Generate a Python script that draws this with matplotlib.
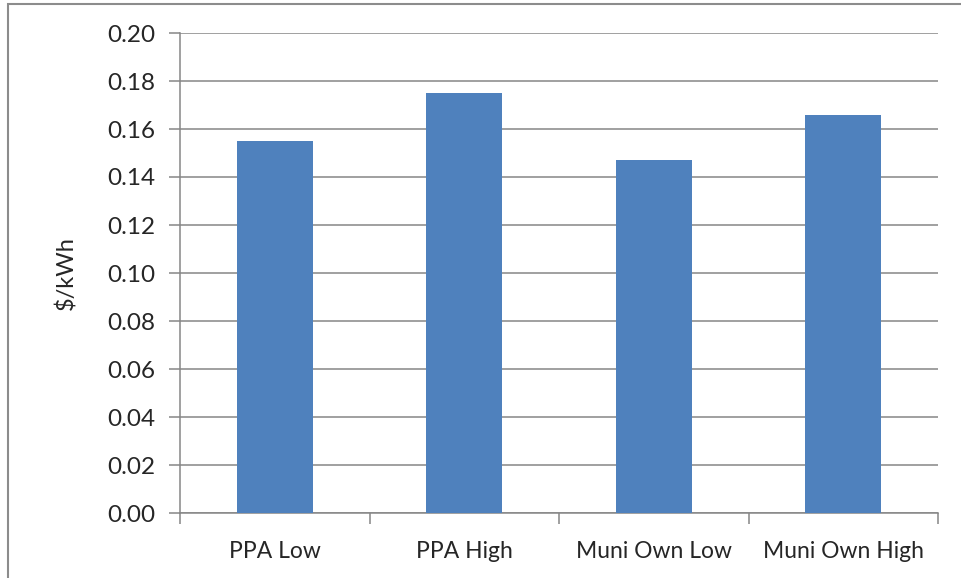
import matplotlib.pyplot as plt
from matplotlib.patches import Rectangle
import numpy as np

categories = ["PPA Low", "PPA High", "Muni Own Low", "Muni Own High"]
cost_per_kwh = [0.155, 0.175, 0.147, 0.166]
y_ticks = [0.00, 0.02, 0.04, 0.06, 0.08, 0.10, 0.12, 0.14, 0.16, 0.18, 0.20]

plt.rcParams['font.family'] = ['Lato', 'DejaVu Sans']

W, H = 961, 578
fig = plt.figure(figsize=(W / 100, H / 100), dpi=100)
ax = fig.add_axes([180 / W, (H - 513) / H, (938 - 180) / W, (513 - 33) / H])

x = np.arange(len(categories))
ax.bar(x, cost_per_kwh, width=0.4, color="#4F81BD", zorder=3)

ax.set_xlim(-0.5, len(categories) - 0.5)
ax.set_ylim(0, 0.20)
ax.set_yticks(y_ticks)
ax.set_yticklabels([f"{v:.2f}" for v in y_ticks])
ax.yaxis.grid(True, color="#868686", linewidth=1.1, zorder=0)

# category labels sit between boundary ticks
ax.set_xticks(np.arange(len(categories) + 1) - 0.5)
ax.set_xticklabels([])
ax.set_xticks(x, minor=True)
ax.set_xticklabels(categories, minor=True)
ax.tick_params(axis="x", which="minor", length=0, pad=20, labelsize=16.5, colors="#262626")
ax.tick_params(axis="x", which="major", length=8, width=1.1, color="#868686")
ax.tick_params(axis="y", length=8, width=1.1, color="#868686", labelsize=17.5,
               labelcolor="#262626", pad=10)

for side in ["top", "right"]:
    ax.spines[side].set_visible(False)
for side in ["left", "bottom"]:
    ax.spines[side].set_color("#868686")
    ax.spines[side].set_linewidth(1.1)

ax.set_ylabel("$/kWh", fontsize=17, color="#262626", labelpad=21)

# outer chart frame
fig.patches.append(Rectangle((8 / W, -0.1), 1.2, (H - 4) / H + 0.1, transform=fig.transFigure,
                             fill=False, edgecolor="#8c8c8c", linewidth=1.5))

fig.savefig("out.png", dpi=100)
